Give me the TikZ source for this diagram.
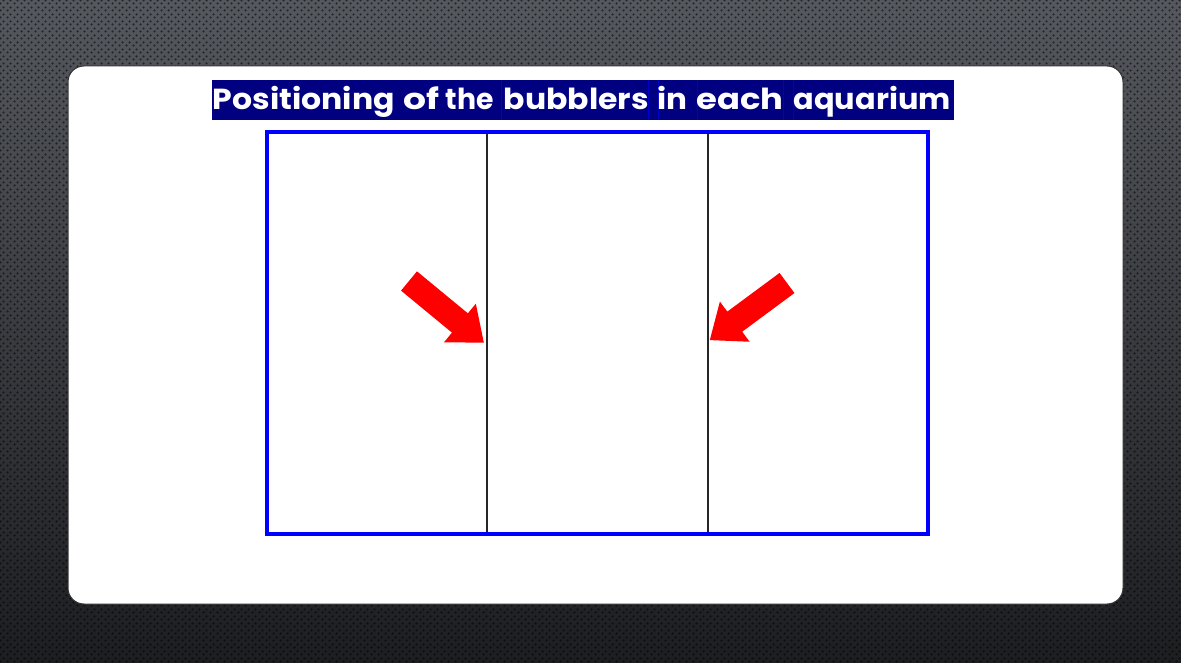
\documentclass[tikz,border=0pt]{standalone}
\usepackage{fontspec}
\setmainfont{Poppins}
\usetikzlibrary{patterns.meta}
\tikzdeclarepattern{name=bgdots, type=uncolored, bottom left={(0pt,0pt)}, top right={(7pt,7pt)}, tile size={(7pt,7pt)},
  code={\fill (1.75pt,1.75pt) circle (1.4pt); \fill (5.25pt,5.25pt) circle (1.4pt);}}
\definecolor{bgtop}{HTML}{55585E}
\definecolor{bgbot}{HTML}{1D1E21}
\definecolor{navy}{HTML}{000080}
\definecolor{tankblue}{HTML}{0000FF}
\definecolor{arrowred}{HTML}{FF0000}
\newcommand{\titleword}[2]{\resizebox{#1}{\height}{\fontsize{29}{34}\selectfont\bfseries #2}}
\tikzset{
  panel/.style={fill=white, draw=black!80, line width=1pt, rounded corners=16pt},
  banner/.style={fill=navy, draw=none},
  seam/.style={draw=blue!55!navy, line width=0.7pt},
  titletext/.style={text=white, inner sep=0pt, anchor=base west},
  tank/.style={draw=tankblue, line width=4pt, line join=miter},
  divider/.style={draw=black!85, line width=1.8pt},
  bigarrow/.style={fill=arrowred, draw=none},
}
\begin{document}
\begin{tikzpicture}[x=1pt,y=1pt]
\useasboundingbox (0,0) rectangle (1181,662);
% background
\shade[top color=bgtop, bottom color=bgbot] (0,0) rectangle (1181,662);
\fill[pattern={bgdots}, pattern color=black, opacity=0.55] (0,0) rectangle (1181,662);
% panel
\node[panel, minimum width=1055pt, minimum height=538pt, inner sep=0pt] (panel) at (595.5,327) {};
% banner
\fill[banner] (212,542) rectangle (954,582);
\coordinate (s1) at (501,582);
\coordinate (s2) at (648,582);
\coordinate (s3) at (658,582);
\coordinate (s4) at (697,582);
\coordinate (s5) at (783,582);
\coordinate (s6) at (793,582);
\foreach \s in {s1,s2,s3,s4,s5,s6} \draw[seam] (\s) -- ++(0,-40);
\node[titletext] (w1) at (212.5,552.5) {\titleword{182pt}{Positioning}};
\node[titletext] (w2) at (403.5,552.5) {\titleword{36pt}{of}};
\node[titletext] (w3) at (445.5,552.5) {\titleword{48pt}{the}};
\node[titletext] (w4) at (503.5,552.5) {\titleword{145pt}{bubblers}};
\node[titletext] (w5) at (657.5,552.5) {\titleword{30pt}{in}};
\node[titletext] (w6) at (696.5,552.5) {\titleword{87pt}{each}};
\node[titletext] (w7) at (793.5,552.5) {\titleword{157pt}{aquarium}};
% tank
\coordinate (tl) at (267,530);
\coordinate (br) at (928,128);
\coordinate (d1t) at (487,530);
\coordinate (d1b) at (487,128);
\coordinate (d2t) at (708,530);
\coordinate (d2b) at (708,128);
\draw[divider] (d1t) -- (d1b);
\draw[divider] (d2t) -- (d2b);
\draw[tank] (tl) rectangle (br);
% arrows
\begin{scope}[shift={(409,381)}, rotate=-39.5]
  \fill[bigarrow] (0,12.5) -- (66,12.5) -- (66,25) -- (97,0) -- (66,-25) -- (66,-12.5) -- (0,-12.5) -- cycle;
\end{scope}
\begin{scope}[shift={(787,379)}, rotate=216.5]
  \fill[bigarrow] (0,12.5) -- (65,12.5) -- (65,25) -- (96,0) -- (65,-25) -- (65,-12.5) -- (0,-12.5) -- cycle;
\end{scope}
\end{tikzpicture}
\end{document}
